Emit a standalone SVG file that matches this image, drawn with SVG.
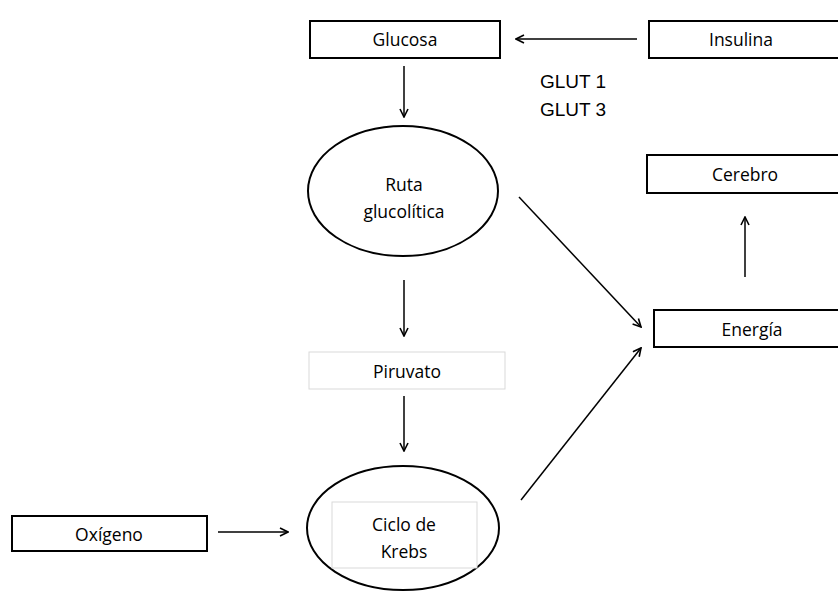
<svg xmlns="http://www.w3.org/2000/svg" width="838" height="592" viewBox="0 0 838 592">
<defs>
<marker id="arr" viewBox="0 0 10 10" refX="9" refY="5" markerWidth="10" markerHeight="10" markerUnits="userSpaceOnUse" orient="auto">
<path d="M1,1 L9,5 L1,9" fill="none" stroke="#000" stroke-width="1.6"/>
</marker>
</defs>
<style>
.box{fill:#fff;stroke:#000;stroke-width:2}
.lbox{fill:#fff;stroke:#d9d9d9;stroke-width:1}
.ell{fill:#fff;stroke:#000;stroke-width:2}
.t{font-family:"Open Sans","Noto Sans",sans-serif;font-size:17.5px;fill:#000;text-anchor:middle}
.g{font-family:"Liberation Sans",Arial,sans-serif;font-size:19px;fill:#000}
.c{stroke:#000;stroke-width:1.5;fill:none;marker-end:url(#arr)}
</style>
<rect width="838" height="592" fill="#fff"/>
<g id="connectors">
<line class="c" x1="637" y1="39" x2="516" y2="39"/>
<line class="c" x1="404" y1="66" x2="404" y2="117"/>
<line class="c" x1="404" y1="280" x2="404" y2="336"/>
<line class="c" x1="404" y1="396" x2="404" y2="451"/>
<line class="c" x1="218" y1="532" x2="288" y2="532"/>
<line class="c" x1="519" y1="197" x2="641" y2="327"/>
<line class="c" x1="521" y1="500" x2="641" y2="348"/>
<line class="c" x1="745" y1="277" x2="745" y2="217"/>
</g>
<g id="glucosa"><rect class="box" x="310" y="21" width="190" height="37"/><text class="t" x="405" y="46">Glucosa</text></g>
<g id="insulina"><rect class="box" x="649" y="21" width="200" height="37"/><text class="t" x="741" y="46">Insulina</text></g>
<g id="glut"><text class="g" x="540" y="88">GLUT 1</text><text class="g" x="540" y="116">GLUT 3</text></g>
<g id="ruta"><ellipse class="ell" cx="403" cy="191" rx="95" ry="65"/><text class="t" x="404" y="191">Ruta</text><text class="t" x="404" y="218">glucolítica</text></g>
<g id="cerebro"><rect class="box" x="647" y="155" width="200" height="38"/><text class="t" x="745" y="181">Cerebro</text></g>
<g id="energia"><rect class="box" x="654" y="310" width="200" height="37"/><text class="t" x="752" y="336">Energía</text></g>
<g id="piruvato"><rect class="lbox" x="309" y="352" width="196" height="37"/><text class="t" x="407" y="378">Piruvato</text></g>
<g id="krebs"><ellipse class="ell" cx="403" cy="528" rx="96" ry="62"/><rect class="lbox" x="332" y="502" width="145" height="66"/><text class="t" x="404" y="531">Ciclo de</text><text class="t" x="404" y="558">Krebs</text></g>
<g id="oxigeno"><rect class="box" x="12" y="516" width="195" height="35"/><text class="t" x="109" y="541">Oxígeno</text></g>
</svg>
